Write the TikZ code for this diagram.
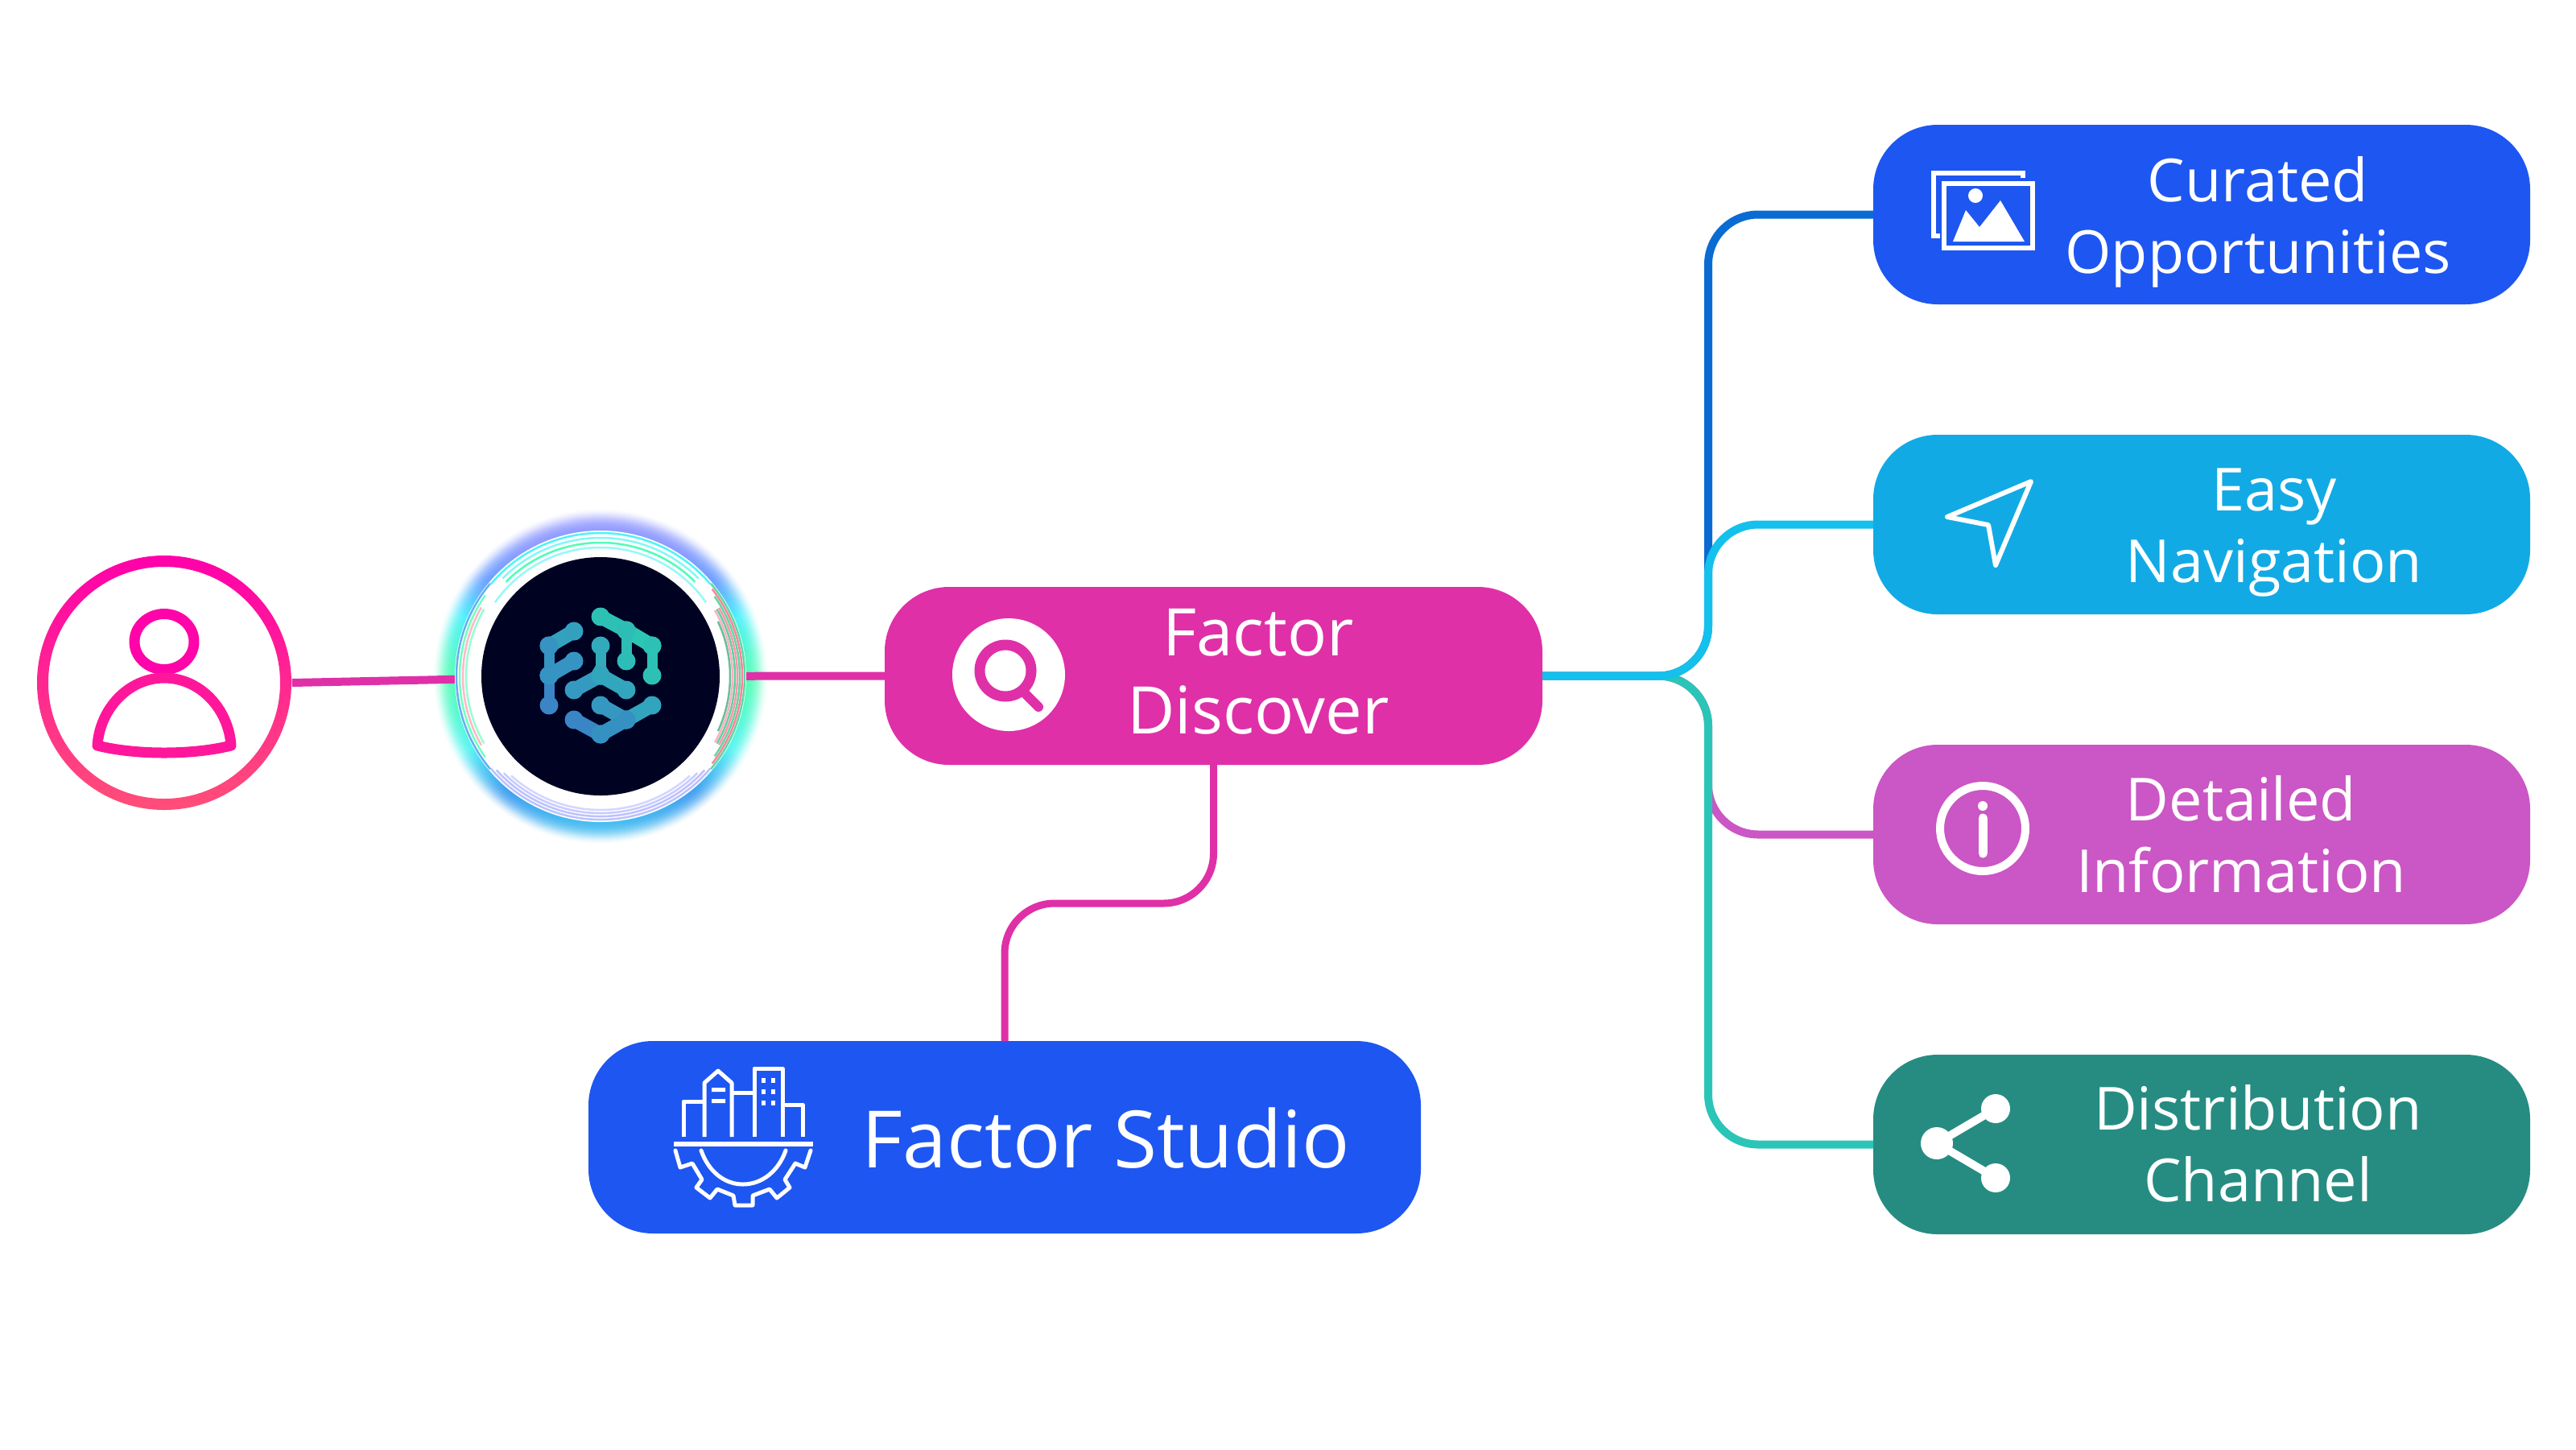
\documentclass[tikz,border=0pt]{standalone}
\usepackage{xcolor}
\usepackage{fontspec}
\setmainfont{Open Sans}
\usetikzlibrary{positioning,backgrounds}
\definecolor{royalblue}{RGB}{30,86,241}
\definecolor{skyblue}{RGB}{18,170,228}
\definecolor{orchid}{RGB}{203,86,197}
\definecolor{pinetone}{RGB}{38,140,130}
\definecolor{magentabox}{RGB}{223,48,168}
\definecolor{linkblue}{RGB}{10,108,210}
\definecolor{linkcyan}{RGB}{20,192,236}
\definecolor{linkteal}{RGB}{43,197,184}
\definecolor{userpink}{RGB}{255,0,170}
\definecolor{usercoral}{RGB}{255,78,120}
\definecolor{brainbg}{RGB}{0,2,34}
\definecolor{brainteal}{RGB}{44,200,180}
\definecolor{brainblue}{RGB}{58,126,200}
\definecolor{glowsky}{RGB}{64,192,240}
\definecolor{glowblue}{RGB}{60,156,240}
\definecolor{glowcyan}{RGB}{80,244,244}
\definecolor{glowmint}{RGB}{80,255,176}
\definecolor{glowcyantop}{RGB}{72,240,255}
\definecolor{glowperi}{RGB}{106,156,255}
\definecolor{glowindigo}{RGB}{144,152,255}
\pgfdeclareverticalshading{glowrim}{100bp}{color(0bp)=(glowsky); color(25bp)=(glowsky); color(31bp)=(glowblue); color(38bp)=(glowcyan); color(50bp)=(glowmint); color(60bp)=(glowcyantop); color(66bp)=(glowperi); color(72bp)=(glowindigo); color(100bp)=(glowindigo)}

\begin{document}
\begin{tikzpicture}[
    x=1cm, y=-1cm,
    node distance=1.62cm,
    box/.style={rectangle, rounded corners=0.8cm, minimum width=8.16cm, minimum height=2.23cm, inner sep=0pt, outer sep=0pt},
    boxtext/.style={text=white, align=center, inner sep=0pt, font=\fontsize{21}{25.3}\selectfont},
    link/.style={line width=1mm, rounded corners=0.62cm},
    iconline/.style={draw=white, line width=0.6mm, line join=round, line cap=round}
]
\useasboundingbox (0,0) rectangle (32,18);

% Boxes on the right
\node[box, fill=royalblue] (curated) at (27.35,2.665) {};
\node[box, fill=skyblue, below=of curated] (navigation) {};
\node[box, fill=orchid, below=of navigation] (information) {};
\node[box, fill=pinetone, below=of information] (channel) {};

% Middle boxes
\node[box, fill=magentabox, minimum width=8.17cm, minimum height=2.21cm] (discover) at (15.075,8.395) {};
\node[box, fill=royalblue, minimum width=10.34cm, minimum height=2.39cm] (studio) at (12.48,14.125) {};

% Left circles
\node[circle, minimum size=3.16cm, inner sep=0pt] (user) at (2.04,8.48) {};
\node[circle, fill=white, minimum size=3.62cm, inner sep=0pt] (halo) at (7.46,8.40) {};
\node[circle, fill=brainbg, minimum size=2.96cm, inner sep=0pt] (brain) at (7.46,8.40) {};

% Glow and the two lines that run under it
\begin{scope}[on background layer]
\foreach \r in {2.08,2.07,...,1.78} {
    \pgfmathsetmacro{\glowop}{0.015+0.75*(2.08-\r)}
    \path[shading=glowrim, opacity=\glowop] (halo.center) circle (\r);
}
\draw[line width=1mm, draw=magentabox] (user.east) -- (halo.center);
\draw[line width=1mm, draw=magentabox] (discover.west) -- (halo.center);
\end{scope}

% Thin rings round the brain
\foreach \a/\b/\r/\c in {40/140/1.78/glowindigo!60, 42/138/1.74/glowindigo!60, 45/135/1.70/glowindigo!50, 48/132/1.66/glowindigo!40,
    -40/40/1.79/glowmint!70!gray, -38/38/1.76/usercoral!70, -35/35/1.73/glowmint!70!gray, -30/30/1.70/usercoral!60, -30/30/1.67/glowmint!65!gray, -30/30/1.64/usercoral!45, -25/25/1.61/glowmint!50!gray,
    140/220/1.79/glowblue!80, 145/215/1.75/glowmint!80, 150/210/1.71/usercoral!40, 150/210/1.67/glowmint!60,
    220/320/1.78/glowcyan, 225/315/1.72/glowcyan!70, 225/315/1.66/glowmint!90!glowcyan, 215/325/1.60/glowcyan!60}
    \draw[line width=0.25mm, draw=\c] ([shift={(\a:\r)}]halo.center) arc[start angle=\a, end angle=\b, radius=\r];

% Brain mark
\coordinate (b0) at (7.46,7.66);
\coordinate (b1) at (7.78,7.83);
\coordinate (b2) at (8.10,8.02);
\coordinate (b3) at (8.10,8.39);
\coordinate (b4) at (7.78,8.21);
\coordinate (l1) at (7.13,7.84);
\coordinate (l2) at (6.82,8.02);
\coordinate (l3) at (6.82,8.39);
\coordinate (l4) at (6.82,8.76);
\coordinate (l5) at (7.13,8.21);
\coordinate (m1) at (7.46,8.02);
\coordinate (m2) at (7.46,8.39);
\coordinate (m3) at (7.13,8.57);
\coordinate (m4) at (7.78,8.57);
\coordinate (r1) at (7.46,8.76);
\coordinate (r2) at (7.78,8.94);
\coordinate (r3) at (8.10,8.76);
\coordinate (s1) at (7.13,8.94);
\coordinate (s2) at (7.46,9.12);
\fill[brainteal!48!brainblue] (7.46,8.16) -- (7.27,8.49) -- (7.65,8.49) -- cycle;
\foreach \a/\b/\p/\w in {b0/b1/90/1.8, b1/b2/97/1.8, b1/b4/84/1.3, b2/b3/91/1.3, l1/l2/48/1.8, l2/l3/28/1.3, l3/l4/9/1.3, l3/l5/30/1.8, m1/m2/59/1.3, m2/m3/38/1.8, m2/m4/54/1.8, r1/r2/35/1.8, r2/r3/51/1.8, s1/s2/10/1.8, s2/r2/26/1.8} {
    \draw[line width=\w mm, line cap=round, draw=brainteal!\p!brainblue] (\a) -- (\b);
    \fill[brainteal!\p!brainblue] (\a) circle (0.115) (\b) circle (0.115);
}

% User
\path[top color=userpink, bottom color=usercoral, even odd rule] (user.center) circle (1.58) (user.center) circle (1.44);
\draw[line width=1.3mm, draw=userpink!95!usercoral] (2.04,7.97) ellipse (0.37 and 0.345);
\draw[line width=1.3mm, draw=userpink!70!usercoral, line join=round] (1.21,9.26) .. controls (1.24,8.80) and (1.60,8.42) .. (2.04,8.42) .. controls (2.48,8.42) and (2.84,8.80) .. (2.87,9.26) .. controls (2.40,9.38) and (1.68,9.38) .. cycle;

% Connectors
\coordinate (trunk) at (21.22,8.395);
\coordinate (kink) at (15.075,11.22);
\draw[link, draw=linkblue] (discover.east) -- (trunk) -- (trunk |- curated.west) -- (curated.west);
\draw[link, draw=orchid] (discover.east) -- (trunk) -- (trunk |- information.west) -- (information.west);
\draw[link, draw=linkteal] (discover.east) -- (trunk) -- (trunk |- channel.west) -- (channel.west);
\draw[link, draw=linkcyan] (discover.east) -- (trunk) -- (trunk |- navigation.west) -- (navigation.west);
\draw[link, draw=magentabox, line width=0.9mm] (discover.south) -- (kink) -| (studio.north);

% Box texts
\node[boxtext] (curatedtext) at (28.05,2.77) {Curated\strut\\Opportunities\strut};
\node[boxtext] (navigationtext) at (28.25,6.61) {Easy\strut\\Navigation\strut};
\node[boxtext] (informationtext) at (27.84,10.46) {Detailed\strut\\Information\strut};
\node[boxtext] (channeltext) at (28.05,14.30) {Distribution\strut\\Channel\strut};
\node[boxtext, font=\fontsize{23.2}{27.6}\selectfont] (discovertext) at (15.63,8.44) {Factor\strut\\Discover\strut};
\node[boxtext, font=\fontsize{28}{34}\selectfont] (studiotext) at (13.74,14.27) {Factor Studio\strut};

% Picture icon
\draw[iconline, line cap=butt, line join=miter] (25.13,2.21) -- (25.13,2.15) -- (24.02,2.15) -- (24.02,2.93) -- (24.10,2.93);
\draw[iconline, line cap=butt, line join=miter] (24.15,2.28) rectangle (25.25,3.08);
\fill[white] (24.26,3.00) -- (24.42,2.61) -- (24.59,2.82) -- (24.85,2.49) -- (25.15,3.00) -- cycle;
\fill[white] (24.54,2.43) circle (0.09);

% Arrow icon
\draw[iconline] (25.23,5.98) -- (24.19,6.42) -- (24.70,6.52) -- (24.79,7.02) -- cycle;

% Info icon
\draw[line width=1mm, draw=white] (24.63,10.29) circle (0.53);
\draw[line width=1.1mm, draw=white, line cap=round] (24.63,10.16) -- (24.63,10.60);
\fill[white] (24.63,10.01) circle (0.06);

% Share icon
\draw[line width=1mm, draw=white] (24.79,13.77) -- (24.06,14.20) -- (24.79,14.63);
\fill[white] (24.79,13.77) circle (0.18) (24.06,14.20) circle (0.20) (24.79,14.63) circle (0.18);

% Search icon
\fill[white] (12.53,8.38) circle (0.70);
\draw[line width=1.3mm, draw=magentabox] (12.49,8.33) circle (0.32);
\draw[line width=1.2mm, draw=magentabox, line cap=round] (12.74,8.62) -- (12.90,8.78);

% City and gear icon
\draw[iconline, line width=0.5mm, line cap=butt] (8.49,14.12) -- (8.49,13.68) -- (8.74,13.68);
\draw[iconline, line width=0.5mm, line cap=butt] (8.75,14.12) -- (8.75,13.45) -- (8.92,13.30) -- (9.09,13.45) -- (9.09,14.12);
\draw[iconline, line width=0.5mm, line cap=butt] (9.09,13.57) -- (9.37,13.57);
\draw[iconline, line width=0.5mm, line cap=butt] (9.37,14.12) -- (9.37,13.27) -- (9.72,13.27) -- (9.72,14.12);
\draw[iconline, line width=0.5mm, line cap=butt] (9.72,13.72) -- (9.97,13.72) -- (9.97,14.12);
\fill[white] (8.84,13.51) rectangle (9.01,13.56) (8.84,13.65) rectangle (9.01,13.70);
\foreach \wx in {9.48,9.60}
    \foreach \wy in {13.42,13.56,13.70}
        \fill[white] (\wx-0.025,\wy-0.03) rectangle (\wx+0.025,\wy+0.03);
\fill[white] (8.37,14.18) rectangle (10.10,14.24);
\draw[iconline, line width=0.5mm] (8.39,14.29) -- (8.45,14.50) -- (8.60,14.45) -- (8.72,14.65) -- (8.65,14.75) -- (8.82,14.88) -- (8.91,14.77) -- (9.11,14.85) -- (9.13,14.97) -- (9.35,14.97) -- (9.35,14.85) -- (9.56,14.77) -- (9.65,14.88) -- (9.81,14.75) -- (9.75,14.65) -- (9.88,14.45) -- (10.00,14.50) -- (10.07,14.29);
\draw[iconline, line width=0.5mm] (8.71,14.29) .. controls (8.80,14.55) and (9.00,14.71) .. (9.23,14.71) .. controls (9.46,14.71) and (9.67,14.55) .. (9.76,14.29);

\end{tikzpicture}
\end{document}
